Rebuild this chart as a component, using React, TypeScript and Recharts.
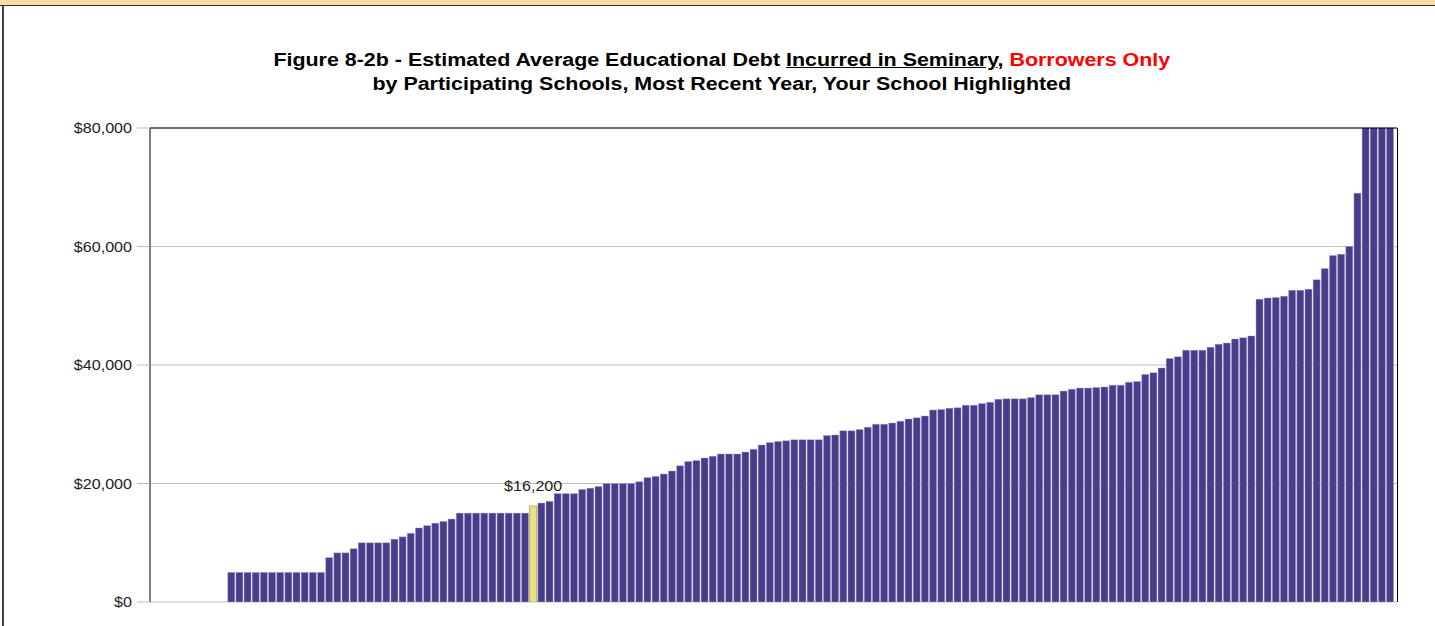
import { BarChart, Bar, XAxis, YAxis, CartesianGrid, Cell, LabelList, ReferenceLine } from "recharts";

// estimated average debt per participating school, sorted ascending
const schoolDebt = [
  5000, 5000, 5000, 5000, 5000, 5000, 5000, 5000, 5000, 5000, 5000, 5000,
  7500, 8300, 8300, 9000, 10000, 10000, 10000, 10000, 10600, 11000, 11600, 12500,
  12900, 13300, 13600, 14000, 15000, 15000, 15000, 15000, 15000, 15000, 15000, 15000,
  15000, 16200, 16700, 17000, 18300, 18300, 18300, 19000, 19200, 19500, 20000, 20000,
  20000, 20000, 20300, 21000, 21200, 21600, 22100, 23000, 23700, 23900, 24300, 24600,
  25000, 25000, 25000, 25300, 25800, 26500, 26900, 27100, 27200, 27400, 27400, 27400,
  27400, 28100, 28200, 28900, 28900, 29100, 29500, 30000, 30000, 30200, 30500, 30900,
  31100, 31400, 32400, 32500, 32700, 32800, 33200, 33200, 33500, 33700, 34200, 34300,
  34300, 34300, 34500, 35000, 35000, 35000, 35600, 35900, 36100, 36100, 36200, 36300,
  36600, 36600, 37100, 37200, 38400, 38700, 39500, 41100, 41400, 42500, 42500, 42500,
  43000, 43500, 43700, 44400, 44600, 44900, 51100, 51300, 51400, 51600, 52600, 52600,
  52800, 54400, 56300, 58500, 58700, 60000, 69000, 82000, 86000, 93000, 105000,
];
const yourSchool = 37; // index of the highlighted school
const yTicks = [0, 20000, 40000, 60000, 80000];

const data = schoolDebt.map((v, i) => ({ school: `School ${i + 1}`, debt: v }));

const money = (v: number) => "$" + v.toLocaleString("en-US");
const FONT = "'Liberation Sans', Arial, sans-serif";

function MoneyTick({ x, y, payload }: any) {
  return (
    <text
      transform={`translate(${x},${y}) scale(1.15,1)`}
      textAnchor="end"
      dominantBaseline="central"
      fontSize={14}
      fontFamily={FONT}
      fill="#222"
    >
      {money(payload.value)}
    </text>
  );
}

function YourLabel(props: any) {
  if (props.index !== yourSchool) return null;
  const cx = props.x + props.width / 2;
  return (
    <text
      transform={`translate(${cx},${props.y - 15}) scale(1.15,1)`}
      textAnchor="middle"
      fontSize={14}
      fontFamily={FONT}
      fill="#222"
    >
      {money(props.value)}
    </text>
  );
}

export default function App() {
  return (
    <div style={{ position: "absolute", left: 0, top: 0, width: 1435, height: 626, background: "#fff", overflow: "hidden", fontFamily: FONT }}>
      <div style={{ position: "absolute", left: 0, top: 0, width: 1435, height: 5, background: "#fddca6", borderBottom: "1.5px solid #333" }} />
      <div style={{ position: "absolute", left: 2, top: 6, width: 1.5, height: 620, background: "#444" }} />
      <div
        style={{
          position: "absolute",
          left: 4,
          top: 48,
          width: 1435,
          textAlign: "center",
          fontWeight: "bold",
          fontSize: 18,
          lineHeight: "24px",
          color: "#000",
        }}
      >
        <div style={{ display: "inline-block", transform: "scaleX(1.19)" }}>
          Figure 8-2b - Estimated Average Educational Debt <span style={{ textDecoration: "underline" }}>Incurred in Seminary</span>,{" "}
          <span style={{ color: "#ff0000" }}>Borrowers Only</span>
          <br />
          by Participating Schools, Most Recent Year, Your School Highlighted
        </div>
      </div>
      <div style={{ position: "absolute", left: 0, top: 0 }}>
        <BarChart
          width={1435}
          height={626}
          data={data}
          margin={{ top: 128, right: 38, bottom: 24, left: 0 }}
          barCategoryGap="9%"
        >
          <CartesianGrid horizontal vertical={false} stroke="#bdbdbd" />
          <XAxis
            dataKey="school"
            height={0}
            tick={false}
            tickLine={false}
            axisLine={{ stroke: "#000" }}
            padding={{ left: 77, right: 3 }}
          />
          <YAxis
            width={150}
            domain={[0, 80000]}
            ticks={yTicks}
            allowDataOverflow
            tick={<MoneyTick />}
            tickSize={13}
            tickMargin={5}
            tickLine={{ stroke: "#bdbdbd" }}
            axisLine={{ stroke: "#000" }}
          />
          <ReferenceLine y={80000} stroke="#000" />
          <Bar dataKey="debt" isAnimationActive={false} stroke="#a9a3d0" strokeWidth={0.4}>
            {data.map((d, i) => (
              <Cell
                key={d.school}
                fill={i === yourSchool ? "#e9e08c" : "#483d8b"}
                stroke={i === yourSchool ? "#c2b661" : "#a9a3d0"}
                strokeWidth={i === yourSchool ? 1.2 : 0.4}
              />
            ))}
            <LabelList dataKey="debt" content={<YourLabel />} />
          </Bar>
        </BarChart>
      </div>
      {/* right edge of the plot frame */}
      <div style={{ position: "absolute", left: 1396.5, top: 128, width: 1, height: 474, background: "#000" }} />
    </div>
  );
}
